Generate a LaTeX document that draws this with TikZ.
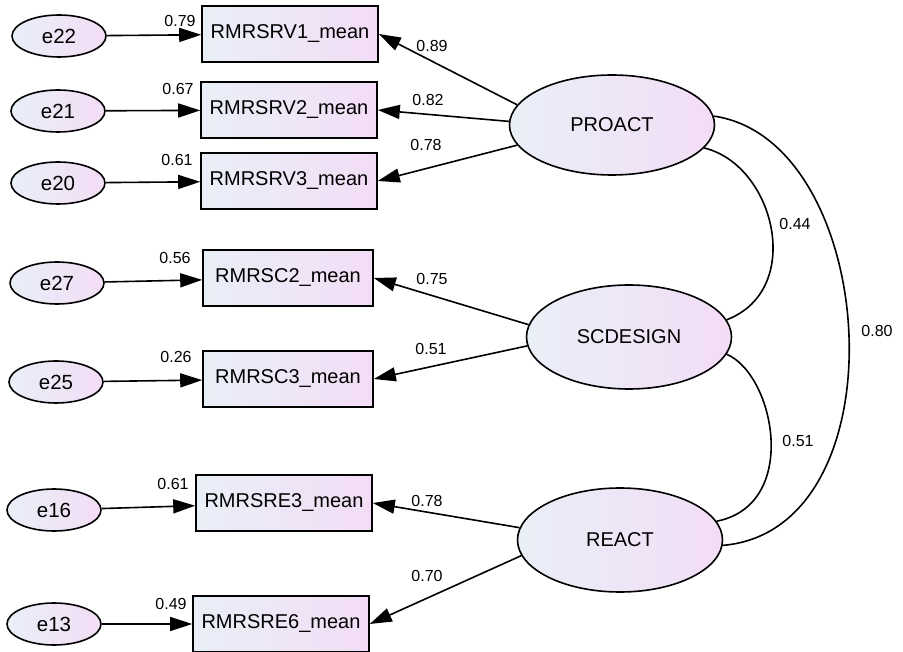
\documentclass[tikz,border=0pt]{standalone}
\usepackage{fontspec}
\setmainfont{Liberation Sans}
\usetikzlibrary{arrows.meta,shapes.geometric}

\definecolor{fillL}{RGB}{233,239,247}
\definecolor{fillR}{RGB}{243,221,246}

\begin{document}
\begin{tikzpicture}[x=1pt,y=-1pt,
  obsbox/.style={draw,line width=1.6pt,minimum width=176pt,minimum height=56pt,inner sep=0pt,
    left color=fillL,right color=fillR,font=\fontsize{20}{24}\selectfont},
  latent/.style={ellipse,draw,line width=1.6pt,minimum width=205pt,minimum height=104pt,inner sep=0pt,
    left color=fillL,right color=fillR,font=\fontsize{20}{24}\selectfont},
  errvar/.style={ellipse,draw,line width=1.6pt,minimum width=94pt,minimum height=42pt,inner sep=0pt,
    left color=fillL,right color=fillR,font=\fontsize{20.5}{24}\selectfont},
  load/.style={line width=1.6pt,-{Triangle[length=22pt,width=14pt]}},
  corr/.style={line width=1.6pt},
  est/.style={font=\fontsize{16}{19}\selectfont,inner sep=0pt}]
  \fill[white] (0,0) rectangle (903,652);
  \useasboundingbox (0,0) rectangle (903,652);

  % 潜在変数
  \node[latent,minimum height=100pt] (pro) at (612,125) {PROACT};
  \node[latent] (scd) at (629,337) {SCDESIGN};
  \node[latent] (rea) at (620,540) {REACT};

  % 観測変数
  \node[obsbox] (rv1) at (290,34) {RMRSRV1\_mean};
  \node[obsbox] (rv2) at (289,110) {RMRSRV2\_mean};
  \node[obsbox] (rv3) at (289,181) {RMRSRV3\_mean};
  \node[obsbox,minimum width=170pt] (sc2) at (288,278) {RMRSC2\_mean};
  \node[obsbox,minimum width=170pt] (sc3) at (288,379) {RMRSC3\_mean};
  \node[obsbox] (re3) at (284,503) {RMRSRE3\_mean};
  \node[obsbox] (re6) at (281,624) {RMRSRE6\_mean};

  % 誤差
  \node[errvar] (e22) at (59,36) {e22};
  \node[errvar] (e21) at (58,111) {e21};
  \node[errvar] (e20) at (58,183) {e20};
  \node[errvar] (e27) at (57,283) {e27};
  \node[errvar] (e25) at (56,382) {e25};
  \node[errvar] (e16) at (54,510) {e16};
  \node[errvar] (e13) at (54,624) {e13};

  \draw[load] (e22) -- (rv1);
  \draw[load] (e21) -- (rv2);
  \draw[load] (e20) -- (rv3);
  \draw[load] (e27) -- (sc2);
  \draw[load] (e25) -- (sc3);
  \draw[load] (e16) -- (re3);
  \draw[load] (e13) -- (re6);

  \draw[load] (pro.168) -- (rv1.east);
  \draw[load] (pro.178) -- (rv2.east);
  \draw[load] (pro.192) -- (rv3.east);
  \draw[load] (scd.173) -- (sc2.east);
  \draw[load] (scd.185) -- (sc3.east);
  \draw[load] (rea.173) -- (re3.east);
  \draw[load] (rea.189) -- (re6.east);

  % 共分散
  \draw[corr] (pro.-14) .. controls (775,165) and (805,290) .. (scd.10);
  \draw[corr] (scd.-10) .. controls (775,375) and (800,505) .. (rea.11);
  \draw[corr] (pro.5) .. controls (880,140) and (905,530) .. (rea.-3);

  % 推定値
  \node[est] (r22) at (180,21) {0.79};
  \node[est] (r21) at (178,89) {0.67};
  \node[est] (r20) at (177,160) {0.61};
  \node[est] (r27) at (175,258) {0.56};
  \node[est] (r25) at (176,357) {0.26};
  \node[est] (r16) at (173,484) {0.61};
  \node[est] (r13) at (171,604) {0.49};
  \node[est] (lrv1) at (432,46) {0.89};
  \node[est] (lrv2) at (428,100) {0.82};
  \node[est] (lrv3) at (426,145) {0.78};
  \node[est] (lsc2) at (432,279) {0.75};
  \node[est] (lsc3) at (431,349) {0.51};
  \node[est] (lre3) at (427,501) {0.78};
  \node[est] (lre6) at (427,576) {0.70};
  \node[est] (cps) at (795,224) {0.44};
  \node[est] (csr) at (798,441) {0.51};
  \node[est] (cpr) at (877,331) {0.80};
\end{tikzpicture}
\end{document}
